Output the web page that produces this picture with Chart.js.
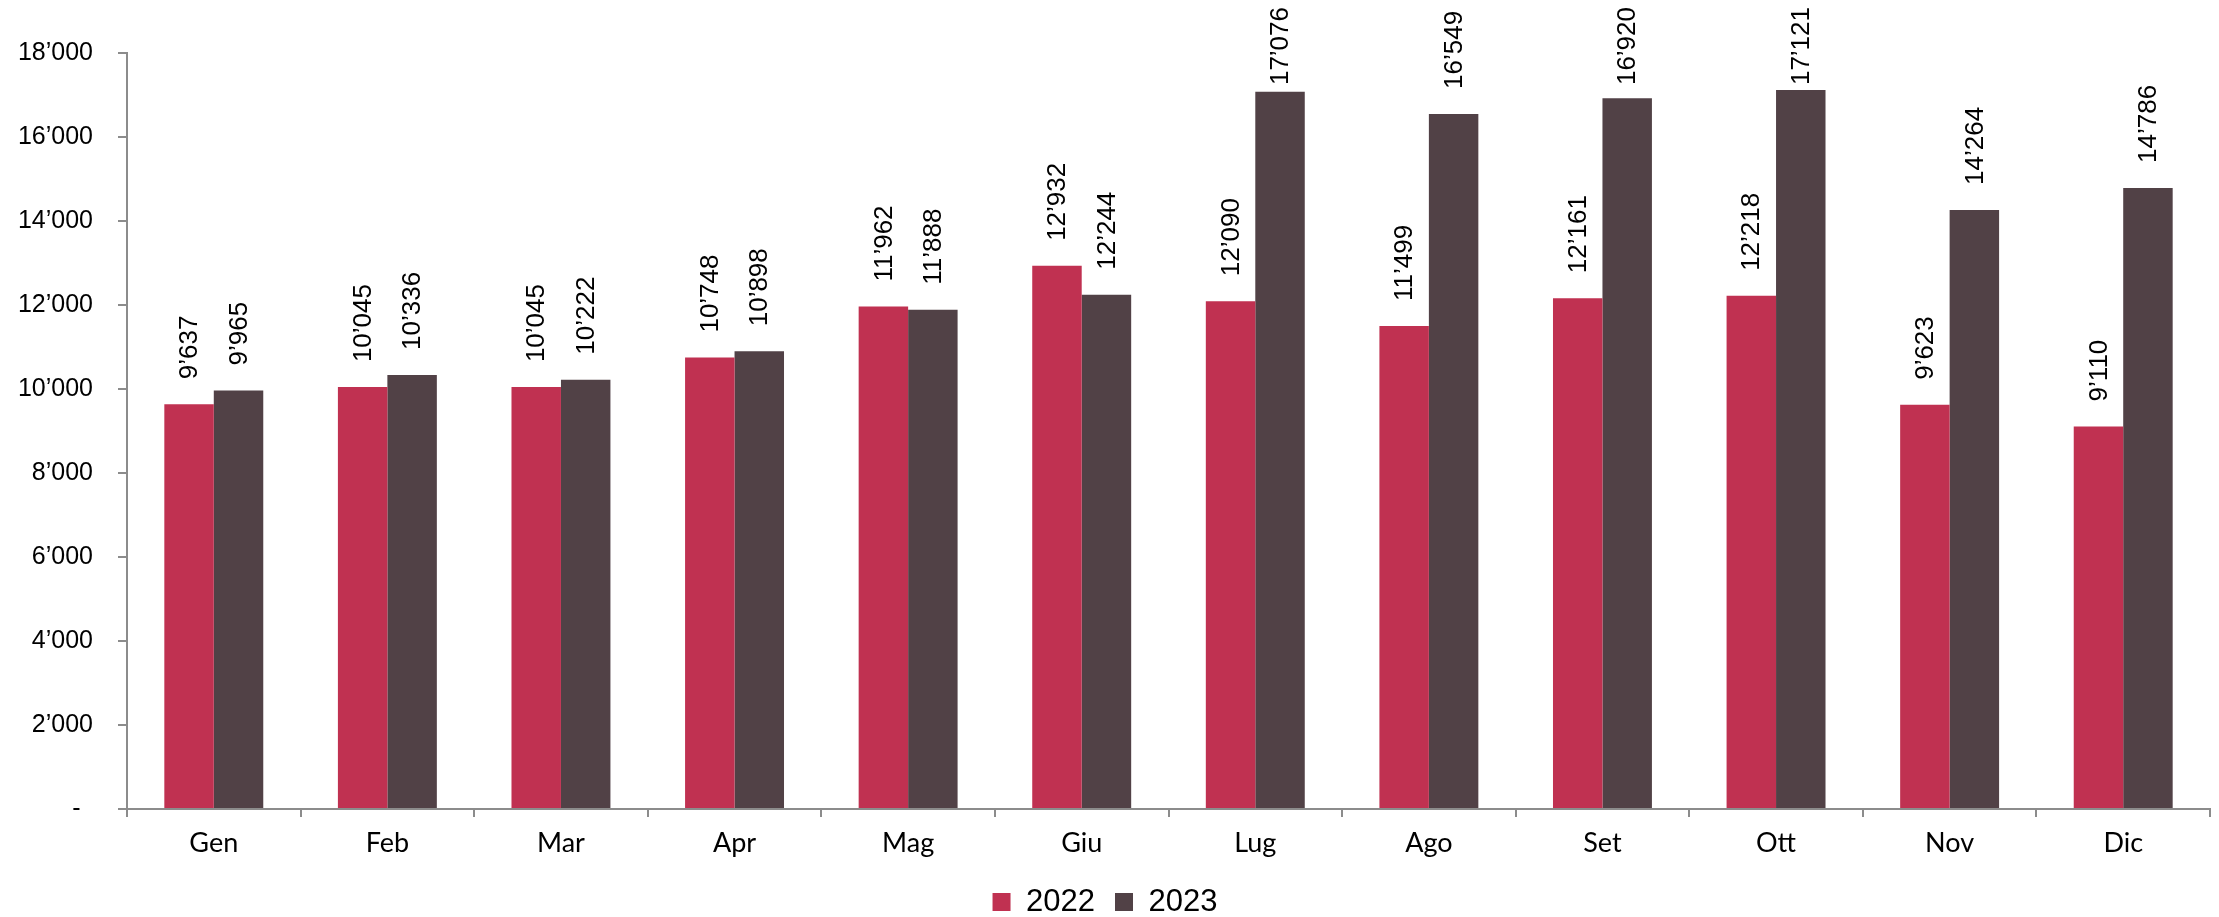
<!DOCTYPE html>
<html>
<head>
<meta charset="utf-8">
<script src="https://cdn.jsdelivr.net/npm/chart.js@4.4.1/dist/chart.umd.min.js"></script>
<style>
  html, body { margin: 0; padding: 0; background: #ffffff; }
  #wrap { width: 2219px; height: 917px; position: relative; }
</style>
</head>
<body>
<div id="wrap"><canvas id="c" width="2219" height="917"></canvas></div>
<script>
const categories = ["Gen", "Feb", "Mar", "Apr", "Mag", "Giu", "Lug", "Ago", "Set", "Ott", "Nov", "Dic"];
const series2022 = [9637, 10045, 10045, 10748, 11962, 12932, 12090, 11499, 12161, 12218, 9623, 9110];
const series2023 = [9965, 10336, 10222, 10898, 11888, 12244, 17076, 16549, 16920, 17121, 14264, 14786];
const seriesNames = ["2022", "2023"];
const yTicks = [0, 2000, 4000, 6000, 8000, 10000, 12000, 14000, 16000, 18000];

function fmt(v) {
  if (v === 0) return "-";
  return String(Math.round(v)).replace(/\B(?=(\d{3})+(?!\d))/g, "\u2019");
}

const AXIS = "#8c8c8c";

const dataLabels = {
  id: "dataLabels",
  afterDatasetsDraw(chart) {
    const ctx = chart.ctx;
    ctx.save();
    ctx.fillStyle = "#000000";
    ctx.font = "26px 'Liberation Sans', Arial, sans-serif";
    ctx.textAlign = "left";
    ctx.textBaseline = "middle";
    chart.data.datasets.forEach((ds, i) => {
      const meta = chart.getDatasetMeta(i);
      meta.data.forEach((el, j) => {
        const txt = fmt(ds.data[j]);
        const w = ctx.measureText(txt).width;
        const y0 = Math.max(el.y - 25, 7 + w);
        ctx.save();
        ctx.translate(el.x, y0);
        ctx.rotate(-Math.PI / 2);
        ctx.fillText(txt, 0, 1);
        ctx.restore();
      });
    });
    ctx.restore();
  }
};

new Chart(document.getElementById("c"), {
  type: "bar",
  data: {
    labels: categories,
    datasets: [
      { label: seriesNames[0], data: series2022, backgroundColor: "#c03151", borderWidth: 0 },
      { label: seriesNames[1], data: series2023, backgroundColor: "#514146", borderWidth: 0 }
    ]
  },
  options: {
    responsive: false,
    animation: false,
    devicePixelRatio: 1,
    layout: { padding: { left: 0, right: 9, top: 53, bottom: -10.5 } },
    datasets: { bar: { barPercentage: 1.0, categoryPercentage: 0.57 } },
    plugins: {
      title: { display: false },
      tooltip: { enabled: false },
      legend: {
        display: true,
        position: "bottom",
        labels: {
          boxWidth: 18,
          boxHeight: 18,
          padding: 20,
          color: "#000000",
          font: { family: "'Liberation Sans', Arial, sans-serif", size: 31 }
        }
      }
    },
    scales: {
      x: {
        afterFit(scale) { scale.height = 57.5; },
        grid: { display: true, drawOnChartArea: false, drawTicks: true, tickLength: 8, color: AXIS, lineWidth: 2, offset: true },
        border: { display: true, color: AXIS, width: 2 },
        ticks: {
          color: "#000000",
          padding: 10,
          maxRotation: 0,
          font: { family: "Lato, 'Noto Sans', sans-serif", size: 27 }
        }
      },
      y: {
        min: 0,
        max: 18000,
        afterFit(scale) { scale.width = 127; },
        afterBuildTicks(scale) { scale.ticks = yTicks.map(v => ({ value: v })); },
        grid: { display: true, drawOnChartArea: false, drawTicks: true, tickLength: 9, color: AXIS, lineWidth: 2 },
        border: { display: true, color: AXIS, width: 2 },
        ticks: {
          color: "#000000",
          padding: 25,
          font: { family: "'Liberation Sans', Arial, sans-serif", size: 25 },
          callback: (v) => (v === 0 ? "-\u2002" : fmt(v))
        }
      }
    }
  },
  plugins: [dataLabels]
});
</script>
</body>
</html>
